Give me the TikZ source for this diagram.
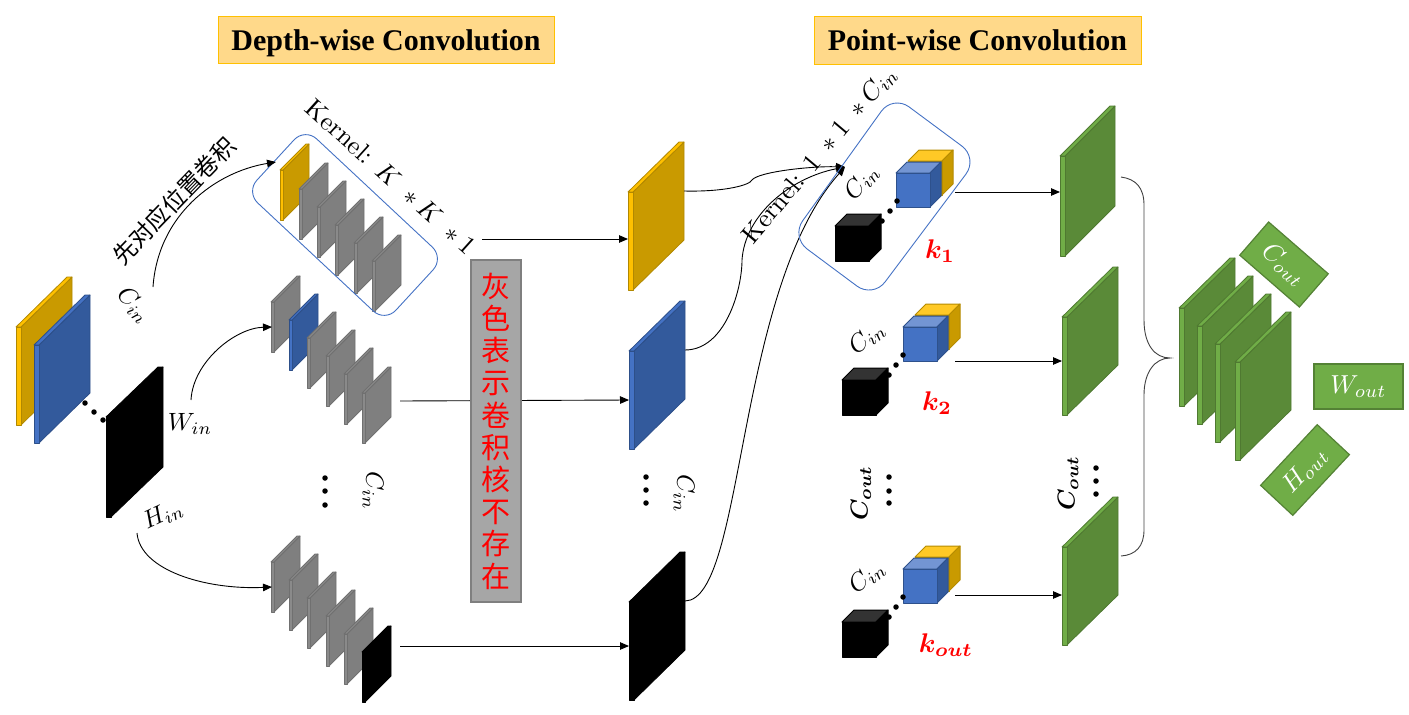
\documentclass[tikz,border=0pt]{standalone}
\usepackage{amsmath}
\usepackage{fontspec}
\usetikzlibrary{arrows.meta}
\newfontfamily\cjk{Noto Sans CJK SC}
\newfontfamily\titlefont{Liberation Serif}
\definecolor{gface}{HTML}{C99A00}
\definecolor{gstrip}{HTML}{FFC000}
\definecolor{bface}{HTML}{335A9C}
\definecolor{bstrip}{HTML}{4472C4}
\definecolor{yface}{HTML}{7F7F7F}
\definecolor{ystrip}{HTML}{8A8A8A}
\definecolor{nface}{HTML}{5A8A38}
\definecolor{nstrip}{HTML}{70AD47}
\definecolor{lgreen}{HTML}{70AD47}
\definecolor{lgreenb}{HTML}{548235}
\definecolor{outl}{HTML}{4472C4}
\definecolor{titlefill}{HTML}{FFD98A}
\definecolor{titleline}{HTML}{FFC000}
\definecolor{graybox}{HTML}{A6A6A6}
\definecolor{grayline}{HTML}{7F7F7F}
% name,x,ytop,dx,dy,h,depth,face,strip
\newcommand{\plate}[9]{%
  \coordinate (#1-l) at (#2,{#3+#5+#6/2});
  \coordinate (#1-r) at ({#2+#4},{#3+#6/2});
  \filldraw[draw=#8!88!black,fill=#8,line width=.8pt,line join=round]
    ({#2+#7},{#3+#5}) -- ({#2+#4},#3) -- ({#2+#4},{#3+#6}) -- ({#2+#7},{#3+#5+#6}) -- cycle;
  \filldraw[draw=#8!88!black,fill=#9,line width=.8pt,line join=round]
    (#2,{#3+#5}) -- ({#2+#4-#7},#3) -- ({#2+#4},#3) -- ({#2+#7},{#3+#5}) -- cycle;
  \filldraw[draw=#8!88!black,fill=#9,line width=.8pt,line join=round]
    (#2,{#3+#5}) rectangle ({#2+#7},{#3+#5+#6});
}
\newcommand{\bigplate}[5]{\plate{#1}{#2}{#3}{56}{50}{98}{5}{#4}{#5}}
\newcommand{\smallplate}[5]{\plate{#1}{#2}{#3}{29}{26}{50}{3}{#4}{#5}}
% x,y,w,h,d,front,top,side,edge
\newcommand{\cube}[9]{%
  \filldraw[draw=#9,fill=#7,line width=1pt,line join=round]
    (#1,#2) -- ({#1+#5},{#2-#5}) -- ({#1+#3+#5},{#2-#5}) -- ({#1+#3},#2) -- cycle;
  \filldraw[draw=#9,fill=#8,line width=1pt,line join=round]
    ({#1+#3},#2) -- ({#1+#3+#5},{#2-#5}) -- ({#1+#3+#5},{#2+#4-#5}) -- ({#1+#3},{#2+#4}) -- cycle;
  \filldraw[draw=#9,fill=#6,line width=1pt,line join=round]
    (#1,#2) rectangle ({#1+#3},{#2+#4});
}
\newcommand{\bluecube}[2]{\cube{#1}{#2}{34}{34}{11}{bstrip}{bstrip!75!white}{bface}{bface!90!black}}
\newcommand{\goldcube}[2]{\cube{#1}{#2}{34}{34}{11}{gface}{gstrip!85!white}{gface}{gface!90!black}}
\newcommand{\blackcube}[2]{\cube{#1}{#2}{34}{35}{12}{black}{black!80}{black}{black}}
\tikzset{
  flow/.style={-{Triangle[length=9pt,width=7.5pt]},line width=.9pt,black},
  dotmark/.style={circle,fill=black,inner sep=0pt,minimum size=5.5pt},
  title/.style={draw=titleline,fill=titlefill,line width=.8pt,minimum height=47pt,inner sep=0pt,
     text height=24pt,text depth=4pt,
     font=\titlefont\bfseries\fontsize{30}{33}\selectfont},
  mlabel/.style={scale=2.5,inner sep=0pt},
  blabel/.style={scale=2.45,inner sep=0pt},
  redmark/.style={scale=2.7,inner sep=0pt,text=red},
  greenbox/.style={draw=lgreenb,fill=lgreen,line width=1.2pt,inner sep=0pt,text=white},
  groupline/.style={draw=outl,line width=.9pt,rounded corners=20pt},
}
\begin{document}
\begin{tikzpicture}[x=1pt,y=-1pt]
\useasboundingbox (0,0) rectangle (1409,715);

% titles
\node[title,minimum width=336pt] (t1) at (386,40) {Depth-wise Convolution};
\node[title,minimum width=327pt,minimum height=48pt] (t2) at (977.5,40) {Point-wise Convolution};

% input stack
\bigplate{ing}{16}{277}{gface}{gstrip}
\bigplate{inb}{34}{295}{bface}{bstrip}
\plate{ink}{106}{367}{57}{50}{100}{5}{black}{black}
\node[dotmark] (d1) at (85,403) {};
\node[dotmark] (d2) at (94,412) {};
\node[dotmark] (d3) at (103,420) {};

% kernel groups
\smallplate{a1}{280}{144}{gface}{gstrip}
\smallplate{a2}{299}{163}{yface}{ystrip}
\smallplate{a3}{317}{181}{yface}{ystrip}
\smallplate{a4}{335}{199}{yface}{ystrip}
\smallplate{a5}{354}{217}{yface}{ystrip}
\smallplate{a6}{372}{235}{yface}{ystrip}

\smallplate{b1}{271}{276}{yface}{ystrip}
\smallplate{b2}{289}{294}{bface}{bstrip}
\smallplate{b3}{307}{312}{yface}{ystrip}
\smallplate{b4}{326}{330}{yface}{ystrip}
\smallplate{b5}{344}{348}{yface}{ystrip}
\smallplate{b6}{362}{367}{yface}{ystrip}

\smallplate{c1}{271}{536}{yface}{ystrip}
\smallplate{c2}{289}{554}{yface}{ystrip}
\smallplate{c3}{307}{572}{yface}{ystrip}
\smallplate{c4}{326}{590}{yface}{ystrip}
\smallplate{c5}{344}{608}{yface}{ystrip}
\smallplate{c6}{362}{626}{black}{black}

% group outline 1
\draw[groupline,rounded corners=16pt] (305,128) -- (444,258) -- (385,322) -- (246,192) -- cycle;

% mid plates
\bigplate{mg}{628}{142}{gface}{gstrip}
\bigplate{mb}{629}{301}{bface}{bstrip}
\bigplate{mk}{629}{552}{black}{black}

% named connector ends
\coordinate (s1) at (153,287);  \coordinate (e1) at (276,162);
\coordinate (s2) at (191,400);  \coordinate (e2) at (272,327);
\coordinate (s3) at (137,533);  \coordinate (e3) at (272,587);
\coordinate (o1) at (482,239);
\coordinate (o2) at (400,401);
\coordinate (o3) at (400,646);
\coordinate (k)  at (845,167);
\coordinate (p1) at (955,192);
\coordinate (p2) at (955,361);
\coordinate (p3) at (955,595);
\coordinate (br1) at (1121,177);
\coordinate (br2) at (1121,556);
\coordinate (brt) at (1170,358);

% curved arrows
\draw[flow] (s1) .. controls (158,215) and (215,172) .. (e1);
\draw[flow] (s2) .. controls (193,362) and (235,328) .. (e2);
\draw[flow] (s3) .. controls (140,570) and (205,590) .. (e3);

% straight arrows
\draw[flow] (o1) -- (o1 -| mg-l);
\draw[flow] (o2) -- (mb-l);
\draw[flow] (o3) -- (o3 -| mk-l);

% gray note
\node[draw=grayline,fill=graybox,line width=1.5pt,minimum width=50pt,minimum height=342pt,inner sep=0pt,
      text=red,font=\cjk\fontsize{29}{32.2}\selectfont,align=center] (note) at (496,431)
      {灰\\色\\表\\示\\卷\\积\\核\\不\\存\\在};

% to point-wise kernel
\draw[flow] (mg-r) .. controls (725,192) and (750,185) .. (752,180) .. controls (758,172) and (810,166) .. (k);
\draw[flow] (mb-r) .. controls (725,350) and (742,290) .. (742,260) .. controls (745,215) and (790,178) .. (k);
\draw[flow] (mk-r) .. controls (745,600) and (735,290) .. (k);

% group outline 2
\draw[groupline] (893,95) -- (978,158) -- (873,298) -- (791,237) -- cycle;

% cubes
\goldcube{908}{161}
\bluecube{896}{173}
\blackcube{835}{226}
\node[dotmark] (e11) at (897,201) {};
\node[dotmark] (e12) at (890,211) {};
\node[dotmark] (e13) at (882,221) {};

\goldcube{915}{315}
\bluecube{903}{327}
\blackcube{842}{380}
\node[dotmark] (e21) at (903,355) {};
\node[dotmark] (e22) at (896,365) {};
\node[dotmark] (e23) at (889,375) {};

\goldcube{915}{557}
\bluecube{903}{569}
\blackcube{842}{622}
\node[dotmark] (e31) at (903,597) {};
\node[dotmark] (e32) at (896,607) {};
\node[dotmark] (e33) at (889,617) {};

% green plates
\plate{g1}{1060}{106}{55}{50}{100}{5}{nface}{nstrip}
\bigplate{g2}{1062}{267}{nface}{nstrip}
\bigplate{g3}{1062}{497}{nface}{nstrip}

\draw[flow] (p1) -- (p1 -| g1-l);
\draw[flow] (p2) -- (p2 -| g2-l);
\draw[flow] (p3) -- (p3 -| g3-l);

% brace
\draw[line width=.9pt,black!75] (br1) .. controls (1136,179) and (1144,188) .. (1144,205) -- (1144,320)
  .. controls (1144,345) and (1155,358) .. (brt)
  .. controls (1155,358) and (1144,372) .. (1144,395) -- (1144,530)
  .. controls (1144,546) and (1136,555) .. (br2);

% output stack
\bigplate{q1}{1179}{258}{nface}{nstrip}
\bigplate{q2}{1197}{276}{nface}{nstrip}
\bigplate{q3}{1215}{294}{nface}{nstrip}
\bigplate{q4}{1235}{312}{nface}{nstrip}

% vertical dots
\foreach \n/\xx/\yy in {v1/325/478,v2/325/491,v3/325/505,w1/646/477,w2/646/490,w3/646/503,u1/889/477,u2/889/491,u3/889/503,x1/1096/468,x2/1096/481,x3/1096/494}
  \node[dotmark] (\n) at (\xx,\yy) {};

% labels
\node[mlabel,rotate=-47] (lc1) at (134,305) {$C_{in}$};
\node[mlabel] (lw) at (190,424) {$W_{in}$};
\node[mlabel,rotate=25] (lh) at (163,515) {$H_{in}$};
\node[mlabel,rotate=-90] (lc2) at (373,491) {$C_{in}$};
\node[mlabel,rotate=-90] (lc3) at (684,494) {$C_{in}$};
\node[mlabel,rotate=50] (lc4) at (862,182) {$C_{in}$};
\node[mlabel,rotate=40] (lc5) at (867,338) {$C_{in}$};
\node[mlabel,rotate=40] (lc6) at (867,577) {$C_{in}$};
\node[inner sep=0pt,rotate=46,font=\cjk\fontsize{23.5}{26}\selectfont] (lt) at (174,201) {先对应位置卷积};
\node[inner sep=0pt,scale=2.6,rotate=-42] (lk1) at (391,177) {Kernel: $K\;*K\;*1$};
\node[inner sep=0pt,scale=2.6,rotate=50] (lk2) at (820,155) {Kernel: $1\;*1\;*C_{in}$};

\node[redmark] (k1) at (940,251) {$\boldsymbol{k_1}$};
\node[redmark] (k2) at (937,403) {$\boldsymbol{k_2}$};
\node[redmark] (k3) at (946,645) {$\boldsymbol{k_{out}}$};
\node[blabel,rotate=90] (cb1) at (861,493) {$\boldsymbol{C_{out}}$};
\node[blabel,rotate=90] (cb2) at (1068,483) {$\boldsymbol{C_{out}}$};

% green label boxes
\node[greenbox,rotate=-41,minimum width=79pt,minimum height=44pt] (bc) at (1284,264.5) {\scalebox{2.6}{$C_{out}$}};
\node[greenbox,minimum width=89pt,minimum height=45pt] (bw) at (1358.5,386.5) {\scalebox{2.6}{$W_{out}$}};
\node[greenbox,rotate=47,minimum width=83pt,minimum height=44pt] (bh) at (1305,470) {\scalebox{2.6}{$H_{out}$}};
\end{tikzpicture}
\end{document}
